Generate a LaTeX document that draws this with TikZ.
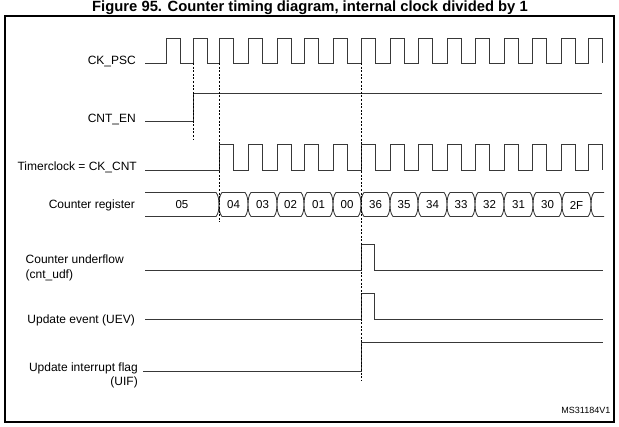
\documentclass[tikz,border=0pt]{standalone}
\usepackage{fontspec}
\setmainfont{Liberation Sans}

\tikzset{
  signal/.style={draw=black!78, line width=0.85pt},
  repere/.style={draw=black, line width=0.7pt, dash pattern=on 2pt off 1.6pt},
  etiq/.style={inner sep=0pt, font=\fontsize{12}{14.5}\selectfont},
  valeur/.style={inner sep=0pt, font=\fontsize{11.5}{12}\selectfont},
}

\begin{document}
\begin{tikzpicture}[x=1pt,y=-1pt]
\useasboundingbox (0,0) rectangle (619,427);

% Titre et cadre
\node[inner sep=0pt, font=\bfseries\fontsize{14.8}{16}\selectfont] (titre) at (310,8)
  {Figure 95. Counter timing diagram, internal clock divided by 1};
\draw[line width=1.2pt] (5,16) rectangle (614,422);

% Fronts montants
\def\frontsCnt{219,248,277,304,333,361,390,418,447,475,504,532,561,588}
\edef\fronts{166,193,\frontsCnt}
\def\demi{14}

% Etiquettes
\node[etiq, anchor=east] (ckpsc) at (136,62) {CK\_PSC};
\node[etiq, anchor=east] (cnten) at (136,120) {CNT\_EN};
\node[etiq, anchor=east] (tclk) at (137,167.5) {Timerclock = CK\_CNT};
\node[etiq, anchor=east] (reg) at (135,205.5) {Counter register};
\node[etiq, anchor=west, align=left] (udf) at (25.5,268) {Counter underflow\\(cnt\_udf)};
\node[etiq, anchor=east] (uev) at (135,320.5) {Update event (UEV)};
\node[etiq, anchor=east, align=right] (uif) at (138,375.5) {Update interrupt flag\\(UIF)};
\node[inner sep=0pt, anchor=east, font=\fontsize{9}{10}\selectfont] (ref) at (610.5,410) {MS31184V1};

% CK_PSC
\draw[signal] (145,63) \foreach \t in \fronts {
  -- (\t,63) -- (\t,38) -- (\t+\demi,38) -- (\t+\demi,63)};

% CNT_EN
\draw[signal] (145,121.5) -- (193,121.5) -- (193,93) -- (602,93);

% Timerclock = CK_CNT
\draw[signal] (145,170) \foreach \t in \frontsCnt {
  -- (\t,170) -- (\t,144) -- (\t+\demi,144) -- (\t+\demi,170)};

% Registre du compteur
\def\yh{192.5}
\def\yb{216.5}
\def\ym{204.5}
\draw[signal] (145,\yh) -- (216,\yh) .. controls (218.3,195) and (219,200) .. (219,\ym)
  .. controls (219,209) and (218.3,214) .. (216,\yb) -- (145,\yb);
\node[valeur] (v05) at (182,205) {05};
\foreach \a/\b/\v in {219/248/04, 248/277/03, 277/304/02, 304/333/01, 333/361/00,
  361/390/36, 390/418/35, 418/447/34, 447/475/33, 475/504/32, 504/533/31,
  533/562/30, 562/591/2F} {
  \draw[signal] (\a+3,\yh) -- (\b-3,\yh) .. controls (\b-0.7,195) and (\b,200) .. (\b,\ym)
    .. controls (\b,209) and (\b-0.7,214) .. (\b-3,\yb) -- (\a+3,\yb)
    .. controls (\a+0.7,214) and (\a,209) .. (\a,\ym)
    .. controls (\a,200) and (\a+0.7,195) .. cycle;
  \node[valeur] (v\v) at ({(\a+\b)/2},205) {\v};
}
\draw[signal] (604,\yh) -- (594,\yh) .. controls (591.7,195) and (591,200) .. (591,\ym)
  .. controls (591,209) and (591.7,214) .. (594,\yb) -- (604,\yb);

% Debordement, evenement et drapeau
\draw[signal] (145,270) -- (361,270) -- (361,244.5) -- (374,244.5) -- (374,270) -- (603,270);
\draw[signal] (145,319.5) -- (361,319.5) -- (361,293.5) -- (374,293.5) -- (374,319.5) -- (603,319.5);
\draw[signal] (143,371) -- (361,371) -- (361,342.5) -- (603,342.5);

% Reperes
\draw[repere] (193,63) -- (193,140);
\draw[repere] (219,63) -- (219,222);
\draw[repere] (361,63) -- (361,381);
\end{tikzpicture}
\end{document}
